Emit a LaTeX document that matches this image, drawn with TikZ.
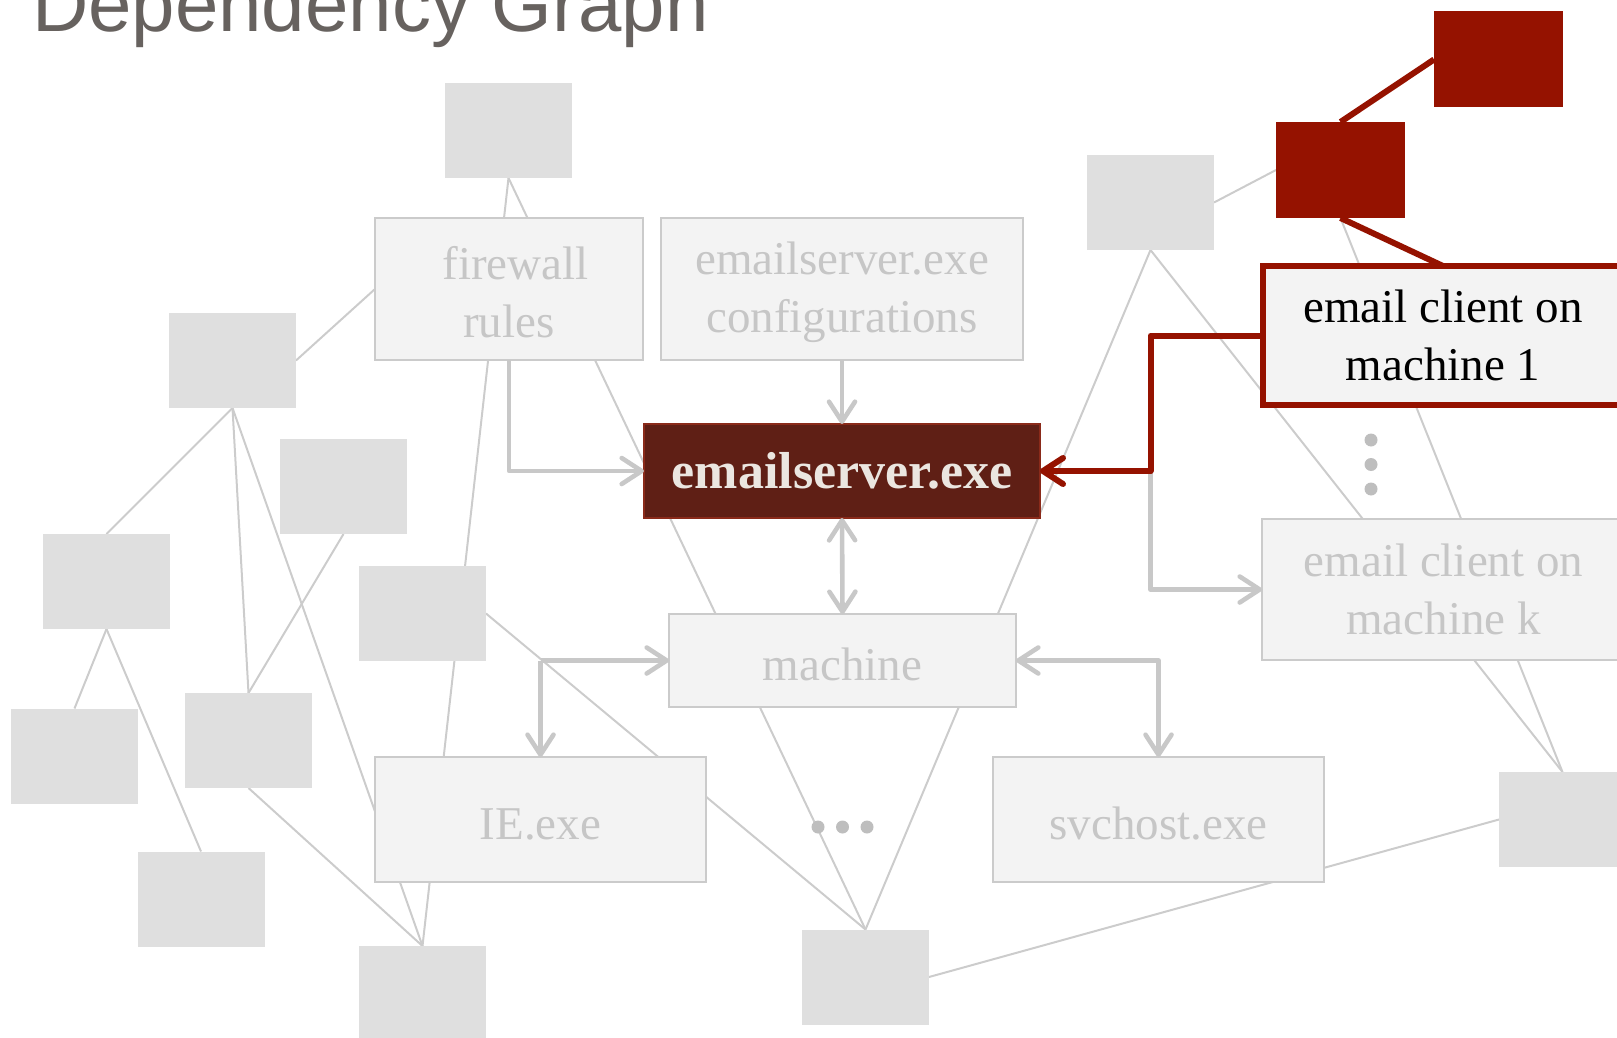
\documentclass[tikz,border=0pt]{standalone}
\usepackage{fontspec}
\setmainfont{Liberation Serif}
\newfontfamily\titlefont{Liberation Sans}
\usetikzlibrary{arrows.meta}
\pgfdeclarelayer{background}
\pgfsetlayers{background,main}

\definecolor{sqgray}{HTML}{DFDFDF}
\definecolor{boxfill}{HTML}{F3F3F3}
\definecolor{boxline}{HTML}{CBCBCB}
\definecolor{boxtext}{HTML}{C6C6C6}
\definecolor{edgegray}{HTML}{CCCCCC}
\definecolor{arrowgray}{HTML}{C8C8C8}
\definecolor{hotred}{HTML}{951200}
\definecolor{corefill}{HTML}{5F1F15}
\definecolor{coreline}{HTML}{8A2A1A}
\definecolor{coretext}{HTML}{EBE6E0}
\definecolor{titlegray}{HTML}{67625F}
\definecolor{dotgray}{HTML}{BEBEBE}

% strut that lowers a line of box text a little
\newcommand{\lowstrut}{\rule{0pt}{40pt}}

\begin{document}
\begin{tikzpicture}[x=1pt,y=-1pt,
  >={Straight Barb[length=20pt,width=26pt,round]},
  sq/.style={fill=sqgray, minimum width=127pt, minimum height=95pt,
    inner sep=0pt, outer sep=0pt},
  redsq/.style={fill=hotred, minimum width=129pt, minimum height=96pt,
    inner sep=0pt, outer sep=0pt},
  item/.style={draw=boxline, line width=2pt, fill=boxfill, text=boxtext,
    inner sep=0pt, outer sep=0pt, align=center,
    font=\fontsize{47}{58}\selectfont},
  core/.style={draw=coreline, line width=2pt, fill=corefill, text=coretext,
    inner sep=0pt, outer sep=0pt,
    font=\bfseries\fontsize{52}{62}\selectfont},
  link/.style={draw=edgegray, line width=2pt},
  flow/.style={draw=arrowgray, line width=4.6pt, line join=round},
  hot/.style={draw=hotred, line width=6pt, line join=round},
  dot/.style={circle, fill=dotgray, minimum size=13pt, inner sep=0pt}]

\useasboundingbox (0,0) rectangle (1617,1038);
\clip (0,0) rectangle (1617,1038);

% title
\node[anchor=base west, inner sep=0pt, text=titlegray,
  font=\titlefont\fontsize{78}{90}\selectfont] (title) at (32,32)
  {Dependency Graph};

% unlabelled components
\node[sq] (sqTop) at (508.5,130.5) {};
\node[sq] (sqL1) at (232.5,360.5) {};
\node[sq] (sqL2) at (343.5,486.5) {};
\node[sq] (sqL3) at (106.5,581.5) {};
\node[sq] (sqL4) at (422.5,613.5) {};
\node[sq] (sqL5) at (74.5,756) {};
\node[sq] (sqL6) at (248.5,740.5) {};
\node[sq] (sqL7) at (201,899) {};
\node[sq] (sqBL) at (422.5,993.5) {};
\node[sq] (sqBC) at (865.5,977) {};
\node[sq] (sqBR) at (1562.5,819.5) {};
\node[sq] (sqTR) at (1150.5,202.5) {};
\node[redsq] (hubA) at (1340.5,170) {};
\node[redsq] (hubB) at (1498.5,59.5) {};

% labelled components
\node[item, minimum width=268pt, minimum height=142pt] (fw) at (509,289)
  {\lowstrut\hspace*{13pt}firewall\\rules};
\node[item, minimum width=362pt, minimum height=142pt] (cfg) at (842,289)
  {\lowstrut emailserver.exe\\configurations};
\node[core, minimum width=396pt, minimum height=94pt] (srv) at (842,471)
  {emailserver.exe};
\node[item, minimum width=347pt, minimum height=93pt] (mach) at (842.5,660.5)
  {\lowstrut machine};
\node[item, minimum width=331pt, minimum height=125pt] (ie) at (540.5,819.5)
  {\lowstrut IE.exe};
\node[item, minimum width=331pt, minimum height=125pt] (svc) at (1158.5,819.5)
  {\lowstrut svchost.exe};
\node[item, minimum width=363pt, minimum height=141pt] (clk) at (1443.5,589.5)
  {email client on\\machine k};
\node[item, draw=hotred, line width=6pt, text=black,
  minimum width=360pt, minimum height=139pt] (cl1) at (1443,335.5)
  {email client on\\machine 1};

% ellipses
\node[dot] (vd1) at (1371,440) {};
\node[dot] (vd2) at (1371,464.5) {};
\node[dot] (vd3) at (1371,489) {};
\node[dot] (hd1) at (818,827) {};
\node[dot] (hd2) at (842.5,827) {};
\node[dot] (hd3) at (867,827) {};

% faint dependency edges, behind everything
\begin{pgfonlayer}{background}
  \draw[link] (sqTop.south) -- (sqBC.north);
  \draw[link] (sqTop.south) -- (sqBL.north);
  \draw[link] (sqL1.east) -- (fw.west);
  \draw[link] (sqL1.south) -- (sqL3.north);
  \draw[link] (sqL1.south) -- (sqL6.north);
  \draw[link] (sqL1.south) -- (sqBL.north);
  \draw[link] (sqL2.south) -- (sqL6.north);
  \draw[link] (sqL3.south) -- (sqL5.north);
  \draw[link] (sqL3.south) -- (sqL7.north);
  \draw[link] (sqL6.south) -- (sqBL.north);
  \draw[link] (sqL4.east) -- (sqBC.north);
  \draw[link] (sqTR.south) -- (sqBC.north);
  \draw[link] (sqTR.east) -- (hubA.west);
  \draw[link] (sqTR.south) -- (sqBR.north);
  \draw[link] (hubA.south) -- (sqBR.north);
  \draw[link] (sqBR.west) -- (sqBC.east);
\end{pgfonlayer}

% highlighted dependencies of the server
\coordinate (split) at (ie.north |- mach.west);
\coordinate (redturn) at (sqTR.south |- srv.east);
\draw[flow,->] (fw.south) |- (srv.west);
\draw[flow,->] (cfg.south) -- (srv.north);
\draw[flow,<->] (srv.south) -- (mach.north);
\draw[flow,->] (split) -- (mach.west);
\draw[flow,->] (split) -- (ie.north);
\draw[flow,<->] (mach.east) -| (svc.north);
\draw[flow,->] (redturn) |- (clk.west);

% red dependency chain
\draw[hot] (hubA.south) -- (cl1.north);
\draw[hot] (hubA.north) -- (hubB.west);
\draw[hot,->] (cl1.west) -| (redturn) -- (srv.east);
\end{tikzpicture}
\end{document}
